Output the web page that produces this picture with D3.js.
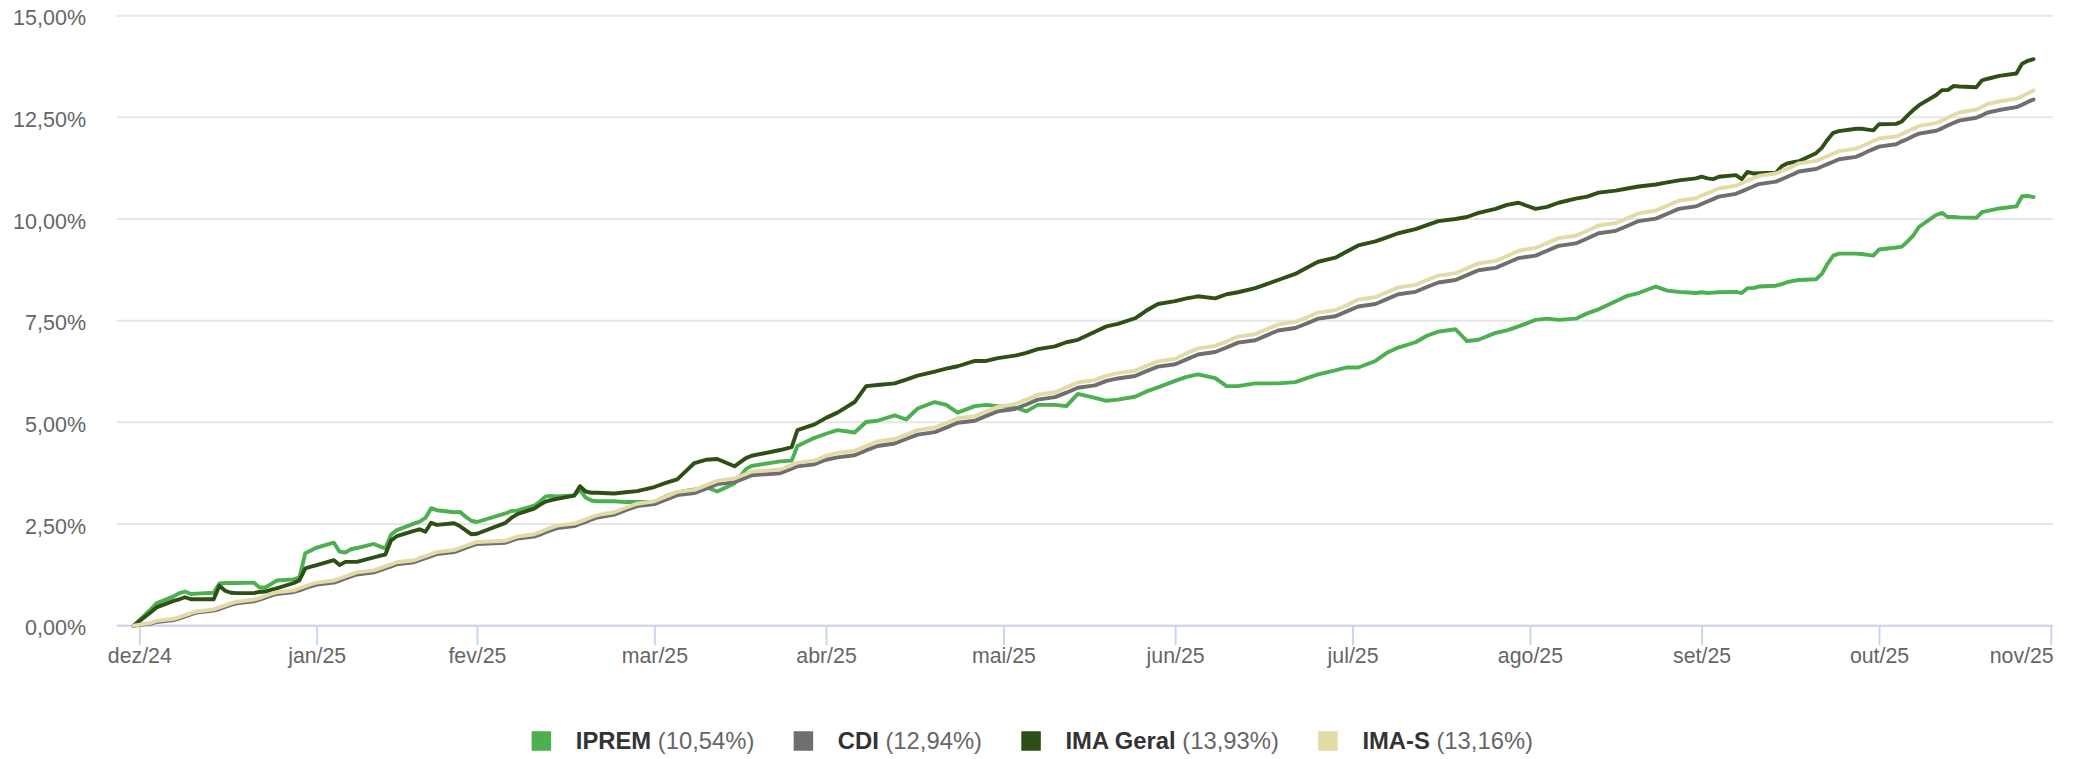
<!DOCTYPE html>
<html lang="pt-BR">
<head>
<meta charset="utf-8">
<script src="https://cdn.jsdelivr.net/npm/d3@7"></script>
<style>
  body { margin: 0; background: #fff; }
  svg { display: block; font-family: "Liberation Sans", Arial, Helvetica, sans-serif; }
</style>
</head>
<body>
<svg class="chart" width="2081" height="759"></svg>
<script>

// business days shown on the chart (one line per month)
const dates = [
  "2024-12-30",
  "2025-01-02","2025-01-03","2025-01-06","2025-01-07","2025-01-08","2025-01-09","2025-01-10","2025-01-13","2025-01-14","2025-01-15","2025-01-16","2025-01-17","2025-01-20","2025-01-21","2025-01-22","2025-01-23","2025-01-24","2025-01-27","2025-01-28","2025-01-29","2025-01-30","2025-01-31",
  "2025-02-03","2025-02-04","2025-02-05","2025-02-06","2025-02-07","2025-02-10","2025-02-11","2025-02-12","2025-02-13","2025-02-14","2025-02-17","2025-02-18","2025-02-19","2025-02-20","2025-02-21","2025-02-24","2025-02-25","2025-02-26","2025-02-27","2025-02-28",
  "2025-03-05","2025-03-06","2025-03-07","2025-03-10","2025-03-11","2025-03-12","2025-03-13","2025-03-14","2025-03-17","2025-03-18","2025-03-19","2025-03-20","2025-03-21","2025-03-24","2025-03-26","2025-03-28","2025-03-31",
  "2025-04-02","2025-04-04","2025-04-07","2025-04-09","2025-04-11","2025-04-14","2025-04-16","2025-04-17","2025-04-22","2025-04-24","2025-04-25","2025-04-28","2025-04-30",
  "2025-05-02","2025-05-05","2025-05-07","2025-05-09","2025-05-12","2025-05-14","2025-05-16","2025-05-19","2025-05-21","2025-05-23","2025-05-26","2025-05-28","2025-05-30",
  "2025-06-02","2025-06-04","2025-06-06","2025-06-09","2025-06-11","2025-06-13","2025-06-16","2025-06-18","2025-06-20","2025-06-23","2025-06-25","2025-06-27","2025-06-30",
  "2025-07-02","2025-07-04","2025-07-07","2025-07-09","2025-07-11","2025-07-14","2025-07-16","2025-07-18","2025-07-21","2025-07-23","2025-07-25","2025-07-28","2025-07-30",
  "2025-08-01","2025-08-04","2025-08-06","2025-08-08","2025-08-11","2025-08-13","2025-08-15","2025-08-18","2025-08-20","2025-08-22","2025-08-25","2025-08-27","2025-08-29",
  "2025-09-01","2025-09-03","2025-09-05","2025-09-08","2025-09-10","2025-09-12","2025-09-15","2025-09-17","2025-09-19","2025-09-22","2025-09-24","2025-09-26","2025-09-29","2025-09-30",
  "2025-10-01","2025-10-02","2025-10-03","2025-10-06","2025-10-07","2025-10-08","2025-10-09","2025-10-10","2025-10-13","2025-10-14","2025-10-15","2025-10-16","2025-10-17","2025-10-20","2025-10-21","2025-10-22","2025-10-23","2025-10-24","2025-10-27","2025-10-28","2025-10-29","2025-10-30","2025-10-31",
  "2025-11-03","2025-11-04","2025-11-05","2025-11-06","2025-11-07","2025-11-10","2025-11-11","2025-11-12","2025-11-13","2025-11-14","2025-11-17","2025-11-18","2025-11-19","2025-11-21","2025-11-24","2025-11-25","2025-11-26","2025-11-27"
];

// accumulated return, %
const iprem = [
  0,
  0.40,0.55,0.72,0.80,0.84,0.78,0.79,0.81,1.04,1.05,1.05,1.05,1.06,0.94,0.94,1.02,1.11,1.14,1.19,1.78,1.85,1.92,
  2.04,1.82,1.80,1.88,1.91,2.01,1.95,1.90,2.24,2.35,2.51,2.56,2.65,2.89,2.84,2.79,2.80,2.68,2.58,2.55,
  2.76,2.82,2.83,2.95,3.05,3.18,3.19,3.18,3.20,3.34,3.15,3.08,3.06,3.06,3.04,3.04,3.04,
  3.18,3.28,3.35,3.41,3.30,3.50,3.85,3.93,4.04,4.06,4.42,4.62,4.72,
  4.81,4.75,5.01,5.04,5.17,5.07,5.34,5.50,5.43,5.24,5.40,5.43,5.40,
  5.37,5.27,5.43,5.43,5.40,5.70,5.60,5.53,5.56,5.63,5.76,5.86,6.02,
  6.12,6.18,6.09,5.89,5.89,5.96,5.96,5.96,5.99,6.09,6.18,6.28,6.35,
  6.35,6.51,6.71,6.84,6.97,7.13,7.23,7.29,7.00,7.03,7.20,7.26,7.36,
  7.52,7.55,7.52,7.55,7.68,7.78,7.98,8.11,8.18,8.34,8.24,8.21,8.18,8.20,
  8.18,8.19,8.20,8.21,8.18,8.30,8.30,8.34,8.36,8.40,8.45,8.48,8.50,8.52,8.65,8.90,9.10,9.15,9.15,9.14,9.12,9.10,9.25,
  9.30,9.32,9.45,9.60,9.81,10.10,10.15,10.05,10.05,10.04,10.03,10.17,10.20,10.26,10.31,10.56,10.57,10.54
];

const cdi = [
  0,
  0.05,0.09,0.14,0.18,0.23,0.28,0.32,0.37,0.41,0.46,0.51,0.55,0.60,0.64,0.69,0.74,0.78,0.83,0.87,0.92,0.97,1.01,
  1.06,1.11,1.16,1.21,1.26,1.31,1.36,1.41,1.46,1.51,1.56,1.61,1.66,1.71,1.76,1.81,1.86,1.91,1.96,2.01,
  2.04,2.09,2.14,2.19,2.24,2.30,2.35,2.40,2.45,2.50,2.55,2.61,2.66,2.73,2.84,2.94,2.99,
  3.10,3.21,3.26,3.37,3.48,3.53,3.64,3.70,3.75,3.86,3.92,3.97,4.08,
  4.14,4.19,4.31,4.42,4.48,4.59,4.70,4.76,4.87,4.99,5.04,5.16,5.27,
  5.33,5.44,5.56,5.62,5.73,5.85,5.91,6.02,6.08,6.14,6.26,6.37,6.43,
  6.55,6.67,6.73,6.84,6.96,7.02,7.14,7.26,7.32,7.43,7.55,7.61,7.73,
  7.85,7.91,8.03,8.15,8.21,8.33,8.44,8.50,8.62,8.74,8.80,8.92,9.04,
  9.10,9.22,9.34,9.40,9.52,9.65,9.71,9.83,9.95,10.01,10.13,10.25,10.31,10.37,
  10.43,10.49,10.55,10.62,10.68,10.74,10.80,10.86,10.92,10.98,11.04,11.10,11.17,11.23,11.29,11.35,11.41,11.47,11.53,11.59,11.66,11.72,11.78,
  11.84,11.91,11.97,12.04,12.10,12.17,12.23,12.30,12.36,12.42,12.49,12.55,12.62,12.68,12.75,12.81,12.88,12.94
];

const imaGeral = [
  0,
  0.33,0.45,0.61,0.65,0.70,0.65,0.65,0.65,0.98,0.86,0.81,0.80,0.80,0.83,0.84,0.88,0.92,1.05,1.12,1.41,1.45,1.49,
  1.61,1.49,1.57,1.57,1.57,1.68,1.72,1.75,2.10,2.20,2.33,2.37,2.31,2.53,2.48,2.52,2.45,2.35,2.25,2.26,
  2.53,2.65,2.74,2.88,2.97,3.05,3.09,3.12,3.20,3.43,3.30,3.27,3.27,3.25,3.28,3.31,3.41,
  3.51,3.60,4.00,4.08,4.10,3.92,4.12,4.18,4.32,4.39,4.81,4.95,5.11,
  5.24,5.50,5.89,5.92,5.96,6.05,6.15,6.25,6.32,6.38,6.51,6.51,6.58,
  6.64,6.71,6.80,6.87,6.97,7.03,7.23,7.36,7.42,7.56,7.75,7.91,7.98,
  8.05,8.10,8.05,8.15,8.20,8.30,8.40,8.50,8.65,8.80,8.95,9.05,9.20,
  9.35,9.45,9.55,9.65,9.75,9.85,9.95,10.00,10.05,10.15,10.25,10.35,10.40,
  10.25,10.30,10.40,10.50,10.55,10.65,10.70,10.75,10.80,10.85,10.90,10.95,11.00,11.04,
  11.00,10.98,11.04,11.08,10.98,11.16,11.12,11.13,11.14,11.30,11.37,11.40,11.42,11.62,11.75,11.95,12.12,12.16,12.22,12.22,12.20,12.18,12.33,
  12.34,12.40,12.55,12.68,12.80,13.05,13.17,13.17,13.27,13.26,13.24,13.41,13.45,13.52,13.58,13.82,13.89,13.93
];

const imaS = [
  0,
  0.07,0.12,0.17,0.21,0.26,0.31,0.35,0.40,0.45,0.50,0.55,0.59,0.64,0.68,0.73,0.78,0.82,0.87,0.92,0.97,1.02,1.06,
  1.11,1.16,1.21,1.26,1.31,1.36,1.41,1.46,1.51,1.56,1.61,1.66,1.71,1.76,1.81,1.86,1.91,1.96,2.01,2.06,
  2.09,2.14,2.19,2.25,2.30,2.36,2.41,2.46,2.51,2.56,2.61,2.67,2.72,2.79,2.90,3.00,3.06,
  3.17,3.29,3.34,3.45,3.56,3.62,3.73,3.79,3.84,3.95,4.01,4.06,4.18,
  4.25,4.30,4.42,4.53,4.59,4.70,4.81,4.87,4.98,5.10,5.15,5.27,5.38,
  5.45,5.56,5.68,5.74,5.86,5.98,6.04,6.15,6.21,6.27,6.39,6.50,6.56,
  6.70,6.82,6.88,6.99,7.11,7.17,7.29,7.41,7.47,7.58,7.70,7.76,7.88,
  8.02,8.08,8.20,8.32,8.38,8.50,8.61,8.67,8.79,8.91,8.97,9.09,9.22,
  9.29,9.41,9.53,9.59,9.71,9.84,9.90,10.02,10.14,10.21,10.33,10.45,10.51,10.58,
  10.63,10.69,10.75,10.82,10.88,10.94,11.00,11.06,11.12,11.18,11.24,11.30,11.37,11.43,11.49,11.55,11.61,11.67,11.73,11.79,11.85,11.92,11.98,
  12.03,12.09,12.16,12.22,12.29,12.36,12.42,12.49,12.56,12.62,12.69,12.76,12.83,12.89,12.96,13.02,13.09,13.16
];

const seriesNames = ["IPREM", "CDI", "IMA Geral", "IMA-S"];
const seriesColors = ["#4caf50", "#6f6f6f", "#2e5016", "#e3dba6"];

// month-end ticks
const tickDates = ["2024-12-31","2025-01-31","2025-02-28","2025-03-31","2025-04-30","2025-05-31",
                   "2025-06-30","2025-07-31","2025-08-31","2025-09-30","2025-10-31","2025-11-30"];
const tickLabels = ["dez/24","jan/25","fev/25","mar/25","abr/25","mai/25",
                    "jun/25","jul/25","ago/25","set/25","out/25","nov/25"];
const yTicks = [0, 2.5, 5, 7.5, 10, 12.5, 15];

// ---- layout
const chart = {
    width: 2081,
    height: 759,
    left: 116.7,
    right: 2053,
    top: 15.7,
    bottom: 625.7,
    line_width: 3.9,
};

const parse = d3.timeParse("%Y-%m-%d");
const br = d3.formatLocale({ decimal: ",", thousands: ".", grouping: [3], currency: ["R$", ""] });
const pct = (v) => br.format(".2f")(v) + "%";

const allSeries = [iprem, cdi, imaGeral, imaS];
allSeries.forEach((s, i) => {
    if (s.length != dates.length) console.log("length mismatch", seriesNames[i], s.length, dates.length);
});

const svg = d3.select("svg.chart");

// x: month-end ticks anchored at measured positions
const x = d3.scaleTime()
    .domain([parse(tickDates[0]), parse(tickDates[tickDates.length - 1])])
    .range([139.3, 2050.7]);

const y = d3.scaleLinear()
    .domain([0, 15])
    .range([chart.bottom, chart.top]);

// grid
svg.append("g")
    .attr("class", "grid")
    .selectAll("line")
    .data(yTicks)
    .enter().append("line")
        .attr("x1", chart.left)
        .attr("x2", chart.right)
        .attr("y1", (d) => y(d))
        .attr("y2", (d) => y(d))
        .attr("stroke", "#e6e6e6")
        .attr("stroke-width", 2);

// y labels
svg.append("g")
    .attr("class", "y-labels")
    .selectAll("text")
    .data(yTicks)
    .enter().append("text")
        .attr("x", 86)
        .attr("y", (d) => y(d) + 9.6)
        .attr("text-anchor", "end")
        .attr("fill", "#666666")
        .style("font-size", "21.5px")
        .text(pct);

// x axis
const xAxis = d3.axisBottom(x)
    .tickValues(tickDates.map(parse))
    .tickFormat((d, i) => tickLabels[i])
    .tickSize(19.5)
    .tickPadding(3);

const gx = svg.append("g")
    .attr("class", "x-axis")
    .attr("transform", "translate(0," + chart.bottom + ")")
    .call(xAxis);

gx.select(".domain").remove();
gx.selectAll(".tick line").attr("stroke", "#ccd6eb").attr("stroke-width", 2);
gx.selectAll(".tick text")
    .attr("fill", "#666666")
    .style("font-size", "21.3px")
    .style("font-family", "'Liberation Sans', Arial, sans-serif");

// last label is kept inside the plot, right aligned on its tick
gx.selectAll(".tick text")
    .filter((d, i) => i == tickLabels.length - 1)
    .attr("text-anchor", "end")
    .attr("x", 2.5);

gx.append("line")
    .attr("x1", chart.left)
    .attr("x2", chart.right)
    .attr("y1", 0)
    .attr("y2", 0)
    .attr("stroke", "#ccd6eb")
    .attr("stroke-width", 2);

// series
const parsedDates = dates.map(parse);
const line = d3.line()
    .x((d) => x(d[0]))
    .y((d) => y(d[1]));

svg.append("g")
    .attr("class", "series")
    .selectAll("path")
    .data(allSeries)
    .enter().append("path")
        .attr("fill", "none")
        .attr("stroke", (d, i) => seriesColors[i])
        .attr("stroke-width", chart.line_width)
        .attr("stroke-linejoin", "round")
        .attr("stroke-linecap", "round")
        .attr("d", (s) => line(s.map((v, i) => [parsedDates[i], v])));

// legend
const legend = svg.append("g").attr("class", "legend");
let cursor = 0;
allSeries.forEach((s, i) => {
    const item = legend.append("g").attr("transform", "translate(" + cursor + ",0)");
    item.append("rect")
        .attr("x", 0)
        .attr("y", -9.75)
        .attr("width", 19.5)
        .attr("height", 19.5)
        .attr("fill", seriesColors[i]);
    const t = item.append("text")
        .attr("x", 44.2)
        .attr("y", 8.3)
        .style("font-size", "23.8px");
    t.append("tspan")
        .attr("font-weight", "bold")
        .attr("fill", "#333333")
        .text(seriesNames[i]);
    t.append("tspan")
        .attr("fill", "#666666")
        .text(" (" + pct(s[s.length - 1]) + ")");
    cursor += 44.2 + t.node().getComputedTextLength() + 39.3;
});
const legendWidth = cursor - 39.3;
legend.attr("transform", "translate(" + (1032.3 - legendWidth / 2) + ",741)");

</script>
</body>
</html>
